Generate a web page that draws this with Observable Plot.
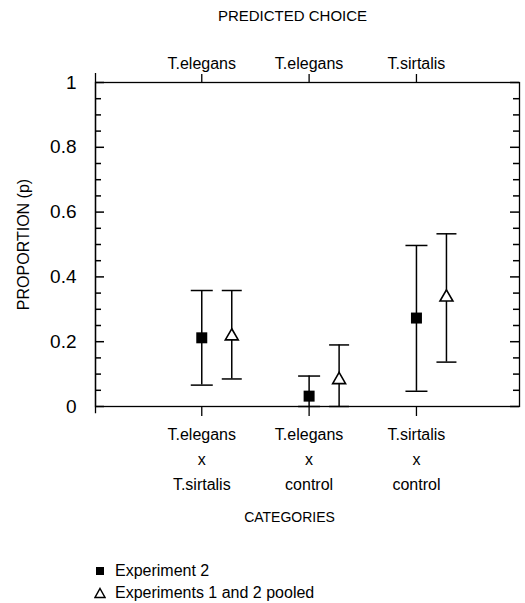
<!DOCTYPE html>
<html><head><meta charset="utf-8">
<script src="https://cdn.jsdelivr.net/npm/d3@7"></script>
<script src="https://cdn.jsdelivr.net/npm/@observablehq/plot@0.6"></script>
<style>
body{margin:0;background:#fff;font-family:"Liberation Sans",Arial,sans-serif;}
#wrap{position:relative;width:525px;height:603px;}
#legend{position:absolute;left:94px;top:560px;font-size:16px;color:#000;}
.row{display:flex;align-items:center;height:22px;}
.row svg{margin-right:9px;flex:none;}
</style></head><body><div id="wrap"><div id="chart"></div><div id="legend"></div></div>
<script>
const categories = [1, 2, 3];
const topLabels = ["T.elegans", "T.elegans", "T.sirtalis"];
const bottomLabels = ["T.elegans\nx\nT.sirtalis", "T.elegans\nx\ncontrol", "T.sirtalis\nx\ncontrol"];
const exp2Mean = [0.212, 0.032, 0.273];
const exp2Low = [0.066, 0.0, 0.047];
const exp2High = [0.358, 0.094, 0.497];
const pooledMean = [0.217, 0.082, 0.337];
const pooledLow = [0.085, 0.0, 0.137];
const pooledHigh = [0.358, 0.19, 0.533];
const yTicks = [0, 0.2, 0.4, 0.6, 0.8, 1];
const yTickLabels = ["0", "0.2", "0.4", "0.6", "0.8", "1"];
const yMinorTicks = [0.05, 0.1, 0.15, 0.25, 0.3, 0.35, 0.45, 0.5, 0.55, 0.65, 0.7, 0.75, 0.85, 0.9, 0.95];
const seriesNames = ["Experiment 2", "Experiments 1 and 2 pooled"];

const exp2 = categories.map((c, i) => ({cat: c, mean: exp2Mean[i], low: exp2Low[i], high: exp2High[i]}));
const pooled = categories.map((c, i) => ({cat: c, mean: pooledMean[i], low: pooledLow[i], high: pooledHigh[i]}));

const W = 525, ML = 95, MR = 6;
const xDom = [0.01, 3.96];
const ppu = (W - ML - MR) / (xDom[1] - xDom[0]); // pixels per x unit
const cap = (hw) => ({draw(ctx) { ctx.moveTo(-hw, 0); ctx.lineTo(hw, 0); }});
const OFF = 30;
const SW = 1.5;
const tk = {stroke: "#000", strokeWidth: 1.5};
const inTicks = (ticks, len) => [
  Plot.ruleY(ticks, {y: d => d, x1: xDom[0], x2: xDom[0] + len / ppu, ...tk}),
  Plot.ruleY(ticks, {y: d => d, x1: xDom[1] - len / ppu, x2: xDom[1], ...tk})
];

const chart = Plot.plot({
  width: W,
  height: 540,
  marginLeft: ML,
  marginRight: MR,
  marginTop: 82,
  marginBottom: 134,
  style: {fontFamily: "'Liberation Sans', Arial, sans-serif", color: "#000", background: "#fff"},
  x: {type: "linear", domain: xDom, label: null},
  y: {domain: [0, 1], label: null},
  marks: [
    Plot.frame({stroke: "#000", strokeWidth: 1.3}),
    Plot.ruleX([xDom[0]], {y1: -0.022, y2: 1.028, stroke: "#000", strokeWidth: 1.3}),
    // y axis labels
    Plot.axisY(yTicks, {anchor: "left", tickSize: 0, tickPadding: 19, fontSize: 19, label: null,
      tickFormat: d => yTickLabels[yTicks.indexOf(d)]}),
    // inward ticks on both side edges
    ...inTicks(yMinorTicks, 6),
    ...inTicks(yTicks, 9),
    // top axis
    Plot.axisX(categories, {anchor: "top", tickSize: 9, tickPadding: 5, fontSize: 16, label: null, strokeWidth: 1.3,
      tickFormat: d => topLabels[d - 1]}),
    // bottom axis
    Plot.axisX(categories, {anchor: "bottom", tickSize: 10, tickPadding: 6, fontSize: 16, lineHeight: 1.56, label: null, strokeWidth: 1.3,
      tickFormat: d => bottomLabels[d - 1]}),
    // titles
    Plot.text(["PREDICTED CHOICE"], {text: d => d, frameAnchor: "top", dx: -15, dy: -72, lineAnchor: "top", fontSize: 15}),
    Plot.text(["CATEGORIES"], {text: d => d, frameAnchor: "bottom", dx: -18, dy: 106, lineAnchor: "top", fontSize: 14}),
    Plot.text(["PROPORTION (p)"], {text: d => d, frameAnchor: "left", dx: -72, rotate: -90, textAnchor: "middle", lineAnchor: "middle", fontSize: 16}),
    // error bars Experiment 2
    Plot.ruleX(exp2, {x: "cat", y1: "low", y2: "high", stroke: "#000", strokeWidth: SW}),
    Plot.dot(exp2, {x: "cat", y: "low", r: 1, symbol: cap(11), stroke: "#000", strokeWidth: SW}),
    Plot.dot(exp2, {x: "cat", y: "high", r: 1, symbol: cap(11), stroke: "#000", strokeWidth: SW}),
    // error bars pooled
    Plot.ruleX(pooled, {x: "cat", y1: "low", y2: "high", dx: OFF, stroke: "#000", strokeWidth: SW}),
    Plot.dot(pooled, {x: "cat", y: "low", dx: OFF, r: 1, symbol: cap(10), stroke: "#000", strokeWidth: SW}),
    Plot.dot(pooled, {x: "cat", y: "high", dx: OFF, r: 1, symbol: cap(10), stroke: "#000", strokeWidth: SW}),
    // points
    Plot.dot(exp2, {x: "cat", y: "mean", symbol: "square", r: 6.2, fill: "#000", stroke: "none"}),
    Plot.dot(pooled, {x: "cat", y: "mean", dx: OFF, symbol: "triangle", r: 4.8, fill: "#fff", stroke: "#000", strokeWidth: 1.6})
  ]
});
document.getElementById("chart").appendChild(chart);

const legend = document.getElementById("legend");
legend.innerHTML =
  `<div class="row"><svg width="12" height="12" viewBox="0 0 12 12"><rect x="2" y="2" width="8" height="8" fill="#000"/></svg><span>${seriesNames[0]}</span></div>` +
  `<div class="row"><svg width="12" height="12" viewBox="0 0 12 12"><path d="M6,1.5 L11,10.5 L1,10.5 Z" fill="#fff" stroke="#000" stroke-width="1.5"/></svg><span>${seriesNames[1]}</span></div>`;
</script>
</body></html>
